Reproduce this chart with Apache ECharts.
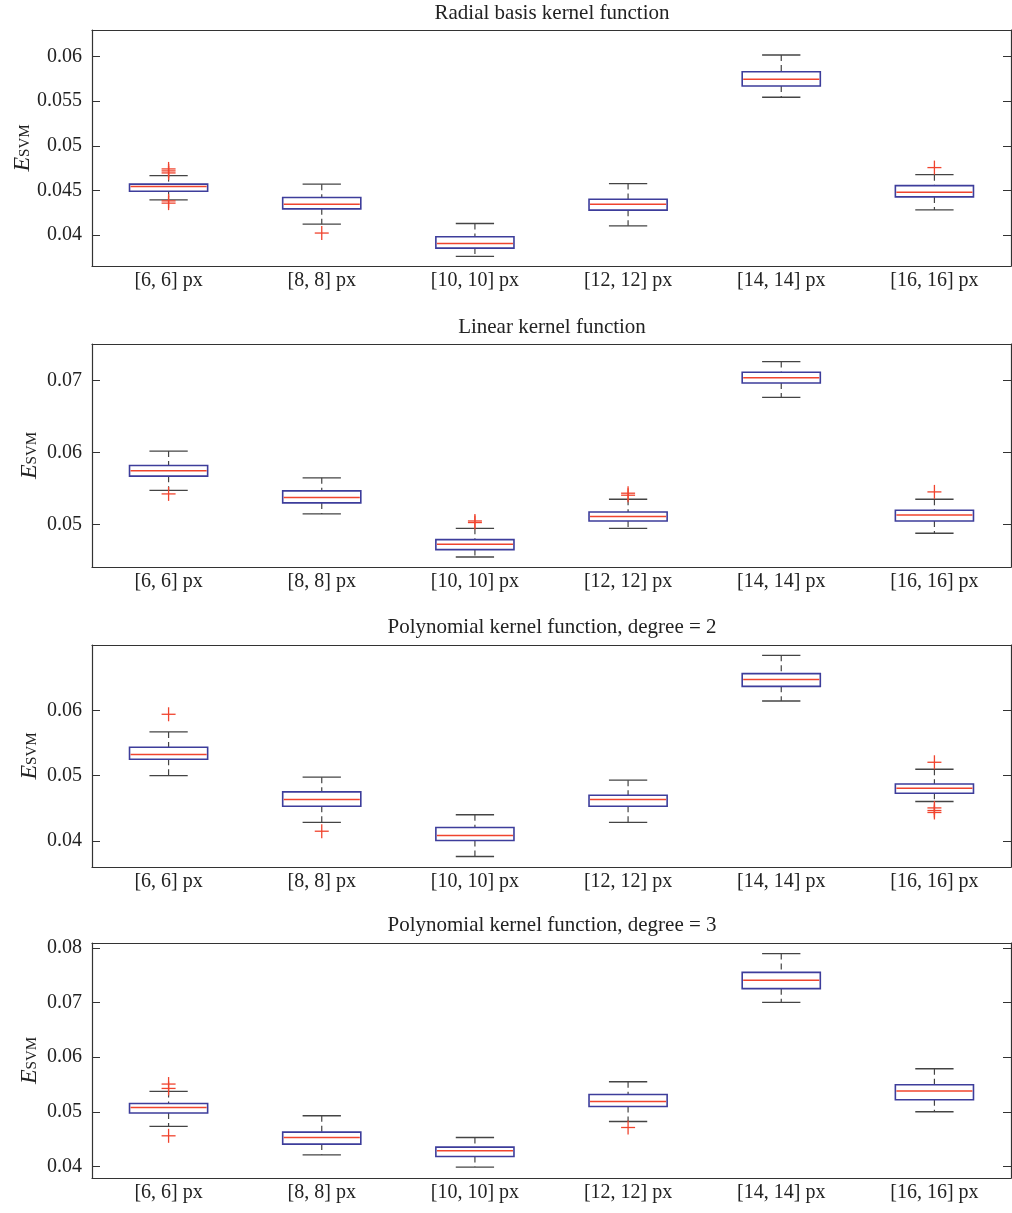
<!DOCTYPE html>
<html>
<head>
<meta charset="utf-8">
<title>E_SVM box plots</title>
<script src="https://cdn.jsdelivr.net/npm/echarts@6.0.0/dist/echarts.min.js"></script>
<style>
  html, body { margin: 0; padding: 0; background: #fff; }
  #chart { width: 1012px; height: 1213px; }
</style>
</head>
<body>
<div id="chart"></div>
<script>
var categories = ['[6, 6] px', '[8, 8] px', '[10, 10] px', '[12, 12] px', '[14, 14] px', '[16, 16] px'];

var titles = [
  'Radial basis kernel function',
  'Linear kernel function',
  'Polynomial kernel function, degree = 2',
  'Polynomial kernel function, degree = 3'
];

// each row: [lower whisker, q1, median, q3, upper whisker]
var rbfBoxes = [
  [0.04393, 0.0449, 0.04542, 0.04569, 0.04665],
  [0.0412, 0.04292, 0.04344, 0.04419, 0.04569],
  [0.03757, 0.03851, 0.03902, 0.03978, 0.04127],
  [0.04101, 0.04277, 0.04344, 0.044, 0.04576],
  [0.05545, 0.05671, 0.05747, 0.05832, 0.06019],
  [0.0428, 0.04426, 0.04479, 0.04553, 0.04676]
];
var rbfOutliers = [[0, 0.0474], [0, 0.04718], [0, 0.04695], [0, 0.04381], [0, 0.04356], [1, 0.0402], [5, 0.04755]];
var rbfTicks = [0.04, 0.045, 0.05, 0.055, 0.06];

var linBoxes = [
  [0.05474, 0.05673, 0.05747, 0.05822, 0.06021],
  [0.05148, 0.05301, 0.05376, 0.05468, 0.05649],
  [0.04549, 0.04652, 0.04726, 0.04791, 0.04948],
  [0.04948, 0.0505, 0.05111, 0.05175, 0.05352],
  [0.06769, 0.06968, 0.07042, 0.07117, 0.07265],
  [0.04879, 0.0505, 0.05134, 0.05199, 0.05352]
];
var linOutliers = [[0, 0.05426], [2, 0.0505], [2, 0.05028], [3, 0.05436], [3, 0.05408], [5, 0.05454]];
var linTicks = [0.05, 0.06, 0.07];

var poly2Boxes = [
  [0.05, 0.0525, 0.05322, 0.05434, 0.05668],
  [0.04282, 0.04531, 0.04633, 0.0475, 0.04975],
  [0.03761, 0.04006, 0.04083, 0.04205, 0.0440],
  [0.04282, 0.04531, 0.04633, 0.04699, 0.04929],
  [0.06142, 0.06367, 0.0647, 0.06562, 0.06842],
  [0.04603, 0.0473, 0.04806, 0.04872, 0.05097]
];
var poly2Outliers = [[0, 0.05939], [1, 0.04148], [5, 0.05204], [5, 0.04505], [5, 0.04465], [5, 0.04435]];
var poly2Ticks = [0.04, 0.05, 0.06];

var poly3Boxes = [
  [0.04733, 0.04978, 0.05081, 0.05154, 0.05374],
  [0.04214, 0.0441, 0.04531, 0.0463, 0.04929],
  [0.0399, 0.04183, 0.04288, 0.04355, 0.04531],
  [0.04824, 0.05099, 0.0519, 0.05319, 0.05551],
  [0.07004, 0.07255, 0.07407, 0.07553, 0.07896],
  [0.05002, 0.05222, 0.05381, 0.05496, 0.05789]
];
var poly3Outliers = [[0, 0.05509], [0, 0.05429], [0, 0.04562], [3, 0.04714]];
var poly3Ticks = [0.04, 0.05, 0.06, 0.07, 0.08];

var panels = [
  { boxes: rbfBoxes, outliers: rbfOutliers, ticks: rbfTicks, min: 0.0365, max: 0.063, top: 30, height: 236, titleTop: 3, nameGap: 59 },
  { boxes: linBoxes, outliers: linOutliers, ticks: linTicks, min: 0.0441, max: 0.0751, top: 344, height: 223, titleTop: 317, nameGap: 52 },
  { boxes: poly2Boxes, outliers: poly2Outliers, ticks: poly2Ticks, min: 0.036, max: 0.070, top: 645, height: 222, titleTop: 617, nameGap: 52 },
  { boxes: poly3Boxes, outliers: poly3Outliers, ticks: poly3Ticks, min: 0.0379, max: 0.0809, top: 943, height: 235, titleTop: 915, nameGap: 52 }
];

var FONT = 'Liberation Serif';
var AXIS_COLOR = '#333';
var BOX_COLOR = '#3d3d9b';
var RED = '#f0442e';
var WHISKER = '#444';

function renderBox(params, api) {
  var i = api.value(0);
  var lo = api.coord([i, api.value(1)]);
  var q1 = api.coord([i, api.value(2)]);
  var md = api.coord([i, api.value(3)]);
  var q3 = api.coord([i, api.value(4)]);
  var hi = api.coord([i, api.value(5)]);
  var band = api.size([1, 0])[0];
  var bw = band * 0.51;
  var cw = band * 0.25;
  var x = lo[0];
  var dashed = { stroke: WHISKER, lineWidth: 1.2, lineDash: [6, 4] };
  var solid = { stroke: WHISKER, lineWidth: 1.3 };
  return {
    type: 'group',
    children: [
      { type: 'line', shape: { x1: x, y1: hi[1], x2: x, y2: q3[1] }, style: dashed },
      { type: 'line', shape: { x1: x, y1: q1[1], x2: x, y2: lo[1] }, style: dashed },
      { type: 'line', shape: { x1: x - cw / 2, y1: hi[1], x2: x + cw / 2, y2: hi[1] }, style: solid },
      { type: 'line', shape: { x1: x - cw / 2, y1: lo[1], x2: x + cw / 2, y2: lo[1] }, style: solid },
      { type: 'rect', shape: { x: x - bw / 2, y: q3[1], width: bw, height: q1[1] - q3[1] },
        style: { fill: '#fff', stroke: BOX_COLOR, lineWidth: 1.6 } },
      { type: 'line', shape: { x1: x - bw / 2 + 1, y1: md[1], x2: x + bw / 2 - 1, y2: md[1] },
        style: { stroke: RED, lineWidth: 1.5 } }
    ]
  };
}

function renderPlus(params, api) {
  var p = api.coord([api.value(0), api.value(1)]);
  var h = 7;
  var st = { stroke: RED, lineWidth: 1.3 };
  return {
    type: 'group',
    children: [
      { type: 'line', shape: { x1: p[0] - h, y1: p[1], x2: p[0] + h, y2: p[1] }, style: st },
      { type: 'line', shape: { x1: p[0], y1: p[1] - h, x2: p[0], y2: p[1] + h }, style: st }
    ]
  };
}

var option = {
  backgroundColor: '#fff',
  animation: false,
  title: [],
  grid: [],
  xAxis: [],
  yAxis: [],
  series: []
};

panels.forEach(function (p, k) {
  option.title.push({
    text: titles[k],
    left: 552,
    top: p.titleTop,
    textAlign: 'center',
    padding: 0,
    textStyle: { fontFamily: FONT, fontSize: 21, fontWeight: 'normal', color: '#222' }
  });
  option.grid.push({ left: 92, width: 919, top: p.top, height: p.height, containLabel: false, outerBoundsMode: 'none' });

  // bottom category axis with labels, top mirror with ticks only
  option.xAxis.push({
    type: 'category', gridIndex: k, data: categories, position: 'bottom',
    axisLine: { lineStyle: { color: AXIS_COLOR, width: 1.2 } },
    axisTick: { inside: true, length: 8, alignWithLabel: true, lineStyle: { color: AXIS_COLOR } },
    axisLabel: { fontFamily: FONT, fontSize: 20, color: '#222', margin: 5 },
    splitLine: { show: false }
  });
  option.xAxis.push({
    type: 'category', gridIndex: k, data: categories, position: 'top',
    axisLine: { lineStyle: { color: AXIS_COLOR, width: 1.2 } },
    axisTick: { inside: true, length: 8, alignWithLabel: true, lineStyle: { color: AXIS_COLOR } },
    axisLabel: { show: false },
    splitLine: { show: false }
  });

  option.yAxis.push({
    type: 'value', gridIndex: k, min: p.min, max: p.max, position: 'left',
    name: '{e|E}{s|SVM}',
    nameLocation: 'middle',
    nameGap: p.nameGap,
    nameMoveOverlap: false,
    nameTextStyle: {
      rich: {
        e: { fontFamily: FONT, fontStyle: 'italic', fontSize: 24, color: '#222', lineHeight: 22, verticalAlign: 'top', padding: [0, 0, 5, 0] },
        s: { fontFamily: FONT, fontSize: 15, color: '#222', lineHeight: 15, verticalAlign: 'bottom' }
      }
    },
    axisLine: { show: true, lineStyle: { color: AXIS_COLOR, width: 1.2 } },
    axisTick: { show: true, inside: true, length: 8, customValues: p.ticks, lineStyle: { color: AXIS_COLOR } },
    axisLabel: { fontFamily: FONT, fontSize: 20, color: '#222', margin: 10, customValues: p.ticks },
    splitLine: { show: false }
  });
  option.yAxis.push({
    type: 'value', gridIndex: k, min: p.min, max: p.max, position: 'right',
    axisLine: { show: true, lineStyle: { color: AXIS_COLOR, width: 1.2 } },
    axisTick: { show: true, inside: true, length: 8, customValues: p.ticks, lineStyle: { color: AXIS_COLOR } },
    axisLabel: { show: false },
    splitLine: { show: false }
  });

  option.series.push({
    type: 'custom',
    xAxisIndex: 2 * k,
    yAxisIndex: 2 * k,
    renderItem: renderBox,
    encode: { x: 0, y: [1, 2, 3, 4, 5] },
    data: p.boxes.map(function (b, i) { return [i].concat(b); }),
    z: 2
  });
  option.series.push({
    type: 'custom',
    xAxisIndex: 2 * k,
    yAxisIndex: 2 * k,
    renderItem: renderPlus,
    encode: { x: 0, y: 1 },
    data: p.outliers,
    z: 3
  });
});

var chart = echarts.init(document.getElementById('chart'), null, { renderer: 'canvas' });
chart.setOption(option);
</script>
</body>
</html>
